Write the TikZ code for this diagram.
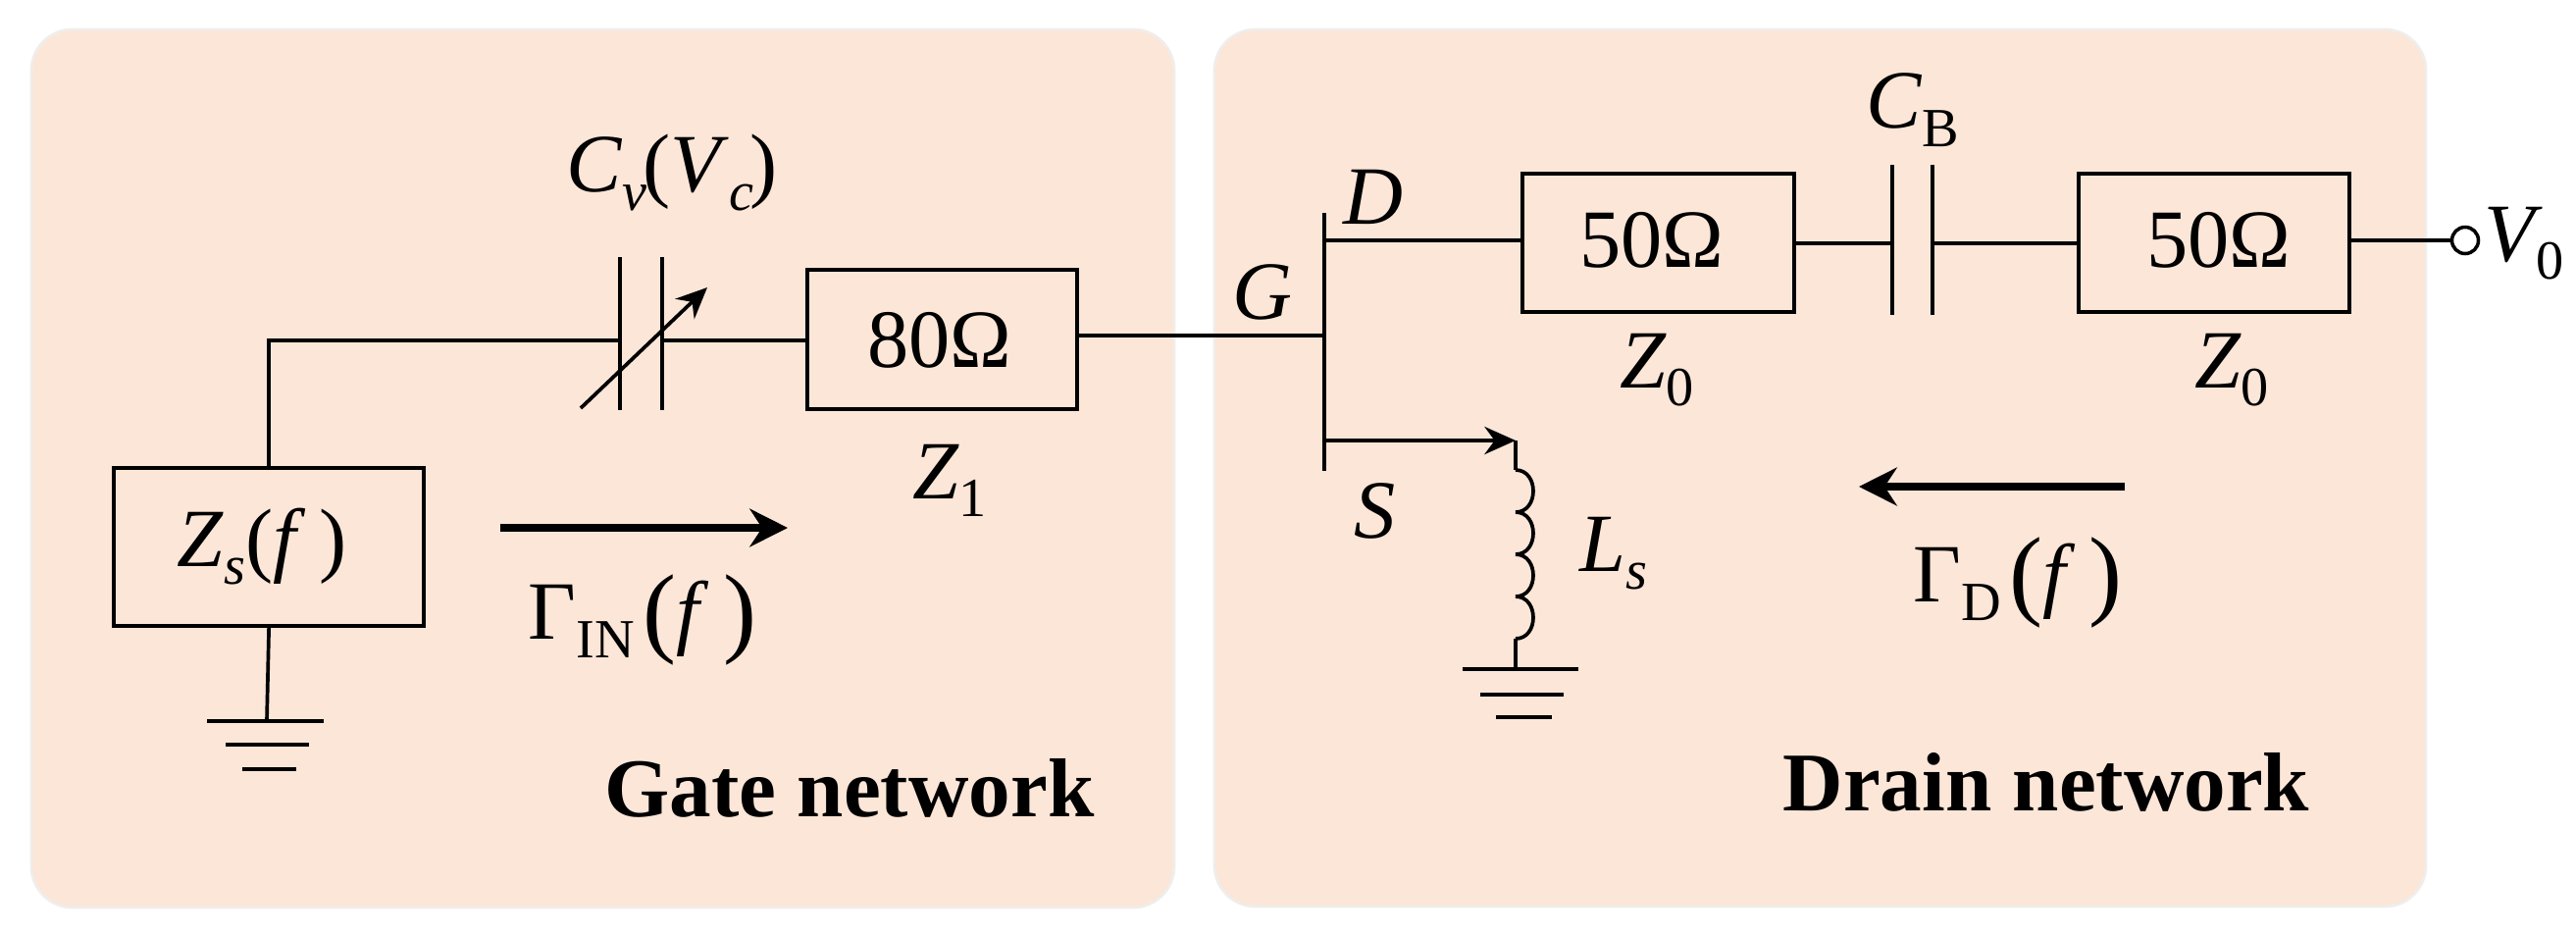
\documentclass[tikz,border=0pt]{standalone}
\usepackage{fontspec}
\setmainfont{Liberation Serif}
\usepackage{tikz}
\usetikzlibrary{arrows.meta}
\definecolor{panelfill}{HTML}{FBE6D8}
\definecolor{paneledge}{HTML}{F0EDEA}
\newcommand{\lowr}[1]{\raisebox{-0.22em}{\fontsize{16}{18}\selectfont #1}}
\newcommand{\bigpar}[1]{\raisebox{-0.06em}{\fontsize{29}{30}\selectfont #1}}
\tikzset{
  panel/.style={draw=paneledge, fill=panelfill, line width=0.8pt, rounded corners=0.42cm},
  wire/.style={black, line width=1.05pt},
  impbox/.style={draw=black, line width=1.15pt, inner sep=0pt, anchor=north west},
  flow/.style={black, line width=2.1pt, -{Stealth[length=11pt,width=11pt]}},
  lbl/.style={inner sep=0pt, font=\fontsize{24}{28}\selectfont},
  title/.style={inner sep=0pt, font=\fontsize{24.2}{28}\selectfont\bfseries}
}
\begin{document}
\begin{tikzpicture}[x=0.01cm, y=-0.01cm]
\useasboundingbox (0,0) rectangle (2626,950);
\draw[panel] (32,30) rectangle (1197,925);
\draw[panel] (1238,30) rectangle (2473,924);

% boxes
\node[impbox, minimum width=3.16cm, minimum height=1.61cm] (zs) at (114,475) {};
\node[impbox, minimum width=2.75cm, minimum height=1.42cm] (tl80) at (821,273) {};
\node[impbox, minimum width=2.77cm, minimum height=1.41cm] (tl50a) at (1550,175) {};
\node[impbox, minimum width=2.76cm, minimum height=1.41cm] (tl50b) at (2117,175) {};
\node[lbl] (zstxt) at (267,557) {\textit{Z}\lowr{\textit{s}}(\textit{f}\,)};
\node[lbl] (t80) at (958,347) {80Ω};
\node[lbl] (t50a) at (1684,245) {50Ω};
\node[lbl] (t50b) at (2262,245) {50Ω};

% variable capacitor
\coordinate (cva) at (632,347);
\coordinate (cvb) at (675,347);
\draw[wire] (632,262) -- (632,418);
\draw[wire] (675,262) -- (675,418);
\draw[wire] (zs.north) |- (cva);
\draw[wire] (cvb) -- (tl80.west |- cvb);
\draw[wire, -{Stealth[length=9pt,width=8pt]}] (592,416) -- (721,293);
\node[lbl] (cv) at (685,176) {\textit{C}\lowr{\textit{v}}\kern-1pt(\textit{V}\lowr{\textit{c}}\kern-1pt)};
\node[lbl] (z1) at (968,490) {\textit{Z}\lowr{1}};

% ground under the source
\coordinate (gndz) at (272,735);
\draw[wire] (zs.south) -- (gndz);
\draw[wire] (211,735) -- (330,735);
\draw[wire] (230,759) -- (315,759);
\draw[wire] (247,784) -- (302,784);

% transistor
\coordinate (gate) at (1350,342);
\coordinate (drain) at (1350,245);
\coordinate (source) at (1350,449);
\coordinate (ltop) at (1545,449);
\draw[wire] (1350,217) -- (1350,480);
\draw[wire] (tl80.east |- gate) -- (gate);
\draw[wire] (drain) -- (tl50a.west |- drain);
\draw[wire, -{Stealth[length=9pt,width=8pt]}] (source) -- (ltop);
\node[lbl] (g) at (1287,298) {\textit{G}};
\node[lbl] (d) at (1400,201) {\textit{D}};
\node[lbl] (s) at (1402,521) {\textit{S}};

% blocking capacitor and output
\coordinate (cba) at (1929,248);
\coordinate (cbb) at (1970,248);
\draw[wire] (1929,168) -- (1929,321);
\draw[wire] (1970,168) -- (1970,321);
\draw[wire] (tl50a.east |- cba) -- (cba);
\draw[wire] (cbb) -- (tl50b.west |- cbb);
\node[circle, draw=black, line width=1pt, minimum size=0.27cm, inner sep=0pt] (port) at (2513,245) {};
\draw[wire] (tl50b.east |- port) -- (port);
\node[lbl] (cb) at (1950,112) {\textit{C}\lowr{B}};
\node[lbl] (z0a) at (1689,377) {\textit{Z}\lowr{0}};
\node[lbl] (z0b) at (2275,377) {\textit{Z}\lowr{0}};
\node[lbl] (v0) at (2573,248) {\textit{V}\kern-2pt\lowr{0}};

% inductor
\coordinate (lbot) at (1545,651);
\coordinate (gndl) at (1545,682);
\draw[wire] (ltop) -- (1545,479);
\foreach \y in {479,522,565,608}
  \draw[wire] (1545,\y) .. controls +(24,0) and +(24,0) .. +(0,43);
\draw[wire] (lbot) -- (gndl);
\draw[wire] (1491,682) -- (1609,682);
\draw[wire] (1509,708) -- (1594,708);
\draw[wire] (1525,731) -- (1582,731);
\node[lbl] (ls) at (1645,564) {\textit{L}\lowr{\textit{s}}};

% reflection arrows
\coordinate (inl) at (510,538);
\coordinate (inr) at (803,538);
\coordinate (dr) at (2166,496);
\coordinate (dl) at (1895,496);
\draw[flow] (inl) -- (inr);
\draw[flow] (dr) -- (dl);
\node[lbl] (gin) at (655,632) {Γ\lowr{IN}\kern2.5pt\bigpar{(}\textit{f}\,\bigpar{)}};
\node[lbl] (gd) at (2057,594) {Γ\lowr{D}\kern2.5pt\bigpar{(}\textit{f}\,\bigpar{)}};

\node[title] (gatenet) at (866,803) {Gate network};
\node[title] (drainnet) at (2086,797) {Drain network};
\end{tikzpicture}
\end{document}
